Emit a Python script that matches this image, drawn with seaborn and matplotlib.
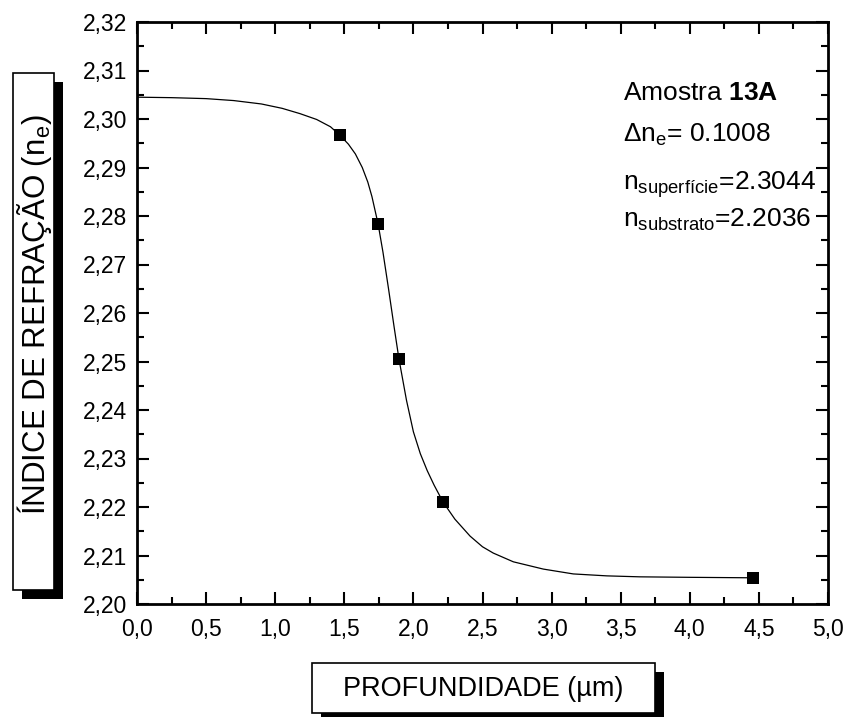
import matplotlib
matplotlib.use("Agg")
import matplotlib.pyplot as plt
from matplotlib.patches import Rectangle
import seaborn as sns
import pandas as pd

# ---- data ----
pts_x = [1.47, 1.745, 1.895, 2.215, 4.46]
pts_y = [2.2966, 2.2783, 2.2506, 2.2210, 2.2054]

curve_x = [0.0, 0.25, 0.50, 0.70, 0.90, 1.05, 1.18, 1.30, 1.40, 1.47, 1.53, 1.58,
           1.63, 1.67, 1.70, 1.745, 1.78, 1.82, 1.86, 1.895, 1.95, 2.00, 2.05,
           2.10, 2.15, 2.215, 2.30, 2.41, 2.50, 2.578, 2.723, 2.94, 3.157, 3.40,
           3.64, 4.00, 4.46]
curve_y = [2.3045, 2.3044, 2.3042, 2.3038, 2.3031, 2.3022, 2.3011, 2.2999, 2.2984, 2.2966, 2.2948, 2.2928,
           2.2900, 2.2870, 2.2840, 2.2783, 2.2725, 2.2650, 2.2572, 2.2506, 2.2420, 2.2355, 2.2310,
           2.2275, 2.2245, 2.2210, 2.2175, 2.2140, 2.2118, 2.2105, 2.2087, 2.2072, 2.2062, 2.2058,
           2.2056, 2.2055, 2.2054]

x_ticks = [0.0, 0.5, 1.0, 1.5, 2.0, 2.5, 3.0, 3.5, 4.0, 4.5, 5.0]
x_ticklabels = ["0,0", "0,5", "1,0", "1,5", "2,0", "2,5", "3,0", "3,5", "4,0", "4,5", "5,0"]
y_ticks = [2.20, 2.21, 2.22, 2.23, 2.24, 2.25, 2.26, 2.27, 2.28, 2.29, 2.30, 2.31, 2.32]
y_ticklabels = ["2,20", "2,21", "2,22", "2,23", "2,24", "2,25", "2,26", "2,27", "2,28",
                "2,29", "2,30", "2,31", "2,32"]

xlabel = "PROFUNDIDADE (µm)"
ylabel = r"ÍNDICE DE REFRAÇÃO (n$_{\mathrm{e}}$)"
ann_lines = [r"Amostra $\mathbf{13A}$",
             r"Δn$_{\mathrm{e}}$= 0.1008",
             r"n$_{\mathrm{superfície}}$=2.3044",
             r"n$_{\mathrm{substrato}}$=2.2036"]

# ---- style ----
sns.set_theme(style="ticks")
plt.rcParams["font.family"] = ["Liberation Sans", "DejaVu Sans"]
plt.rcParams["mathtext.fontset"] = "custom"
plt.rcParams["mathtext.rm"] = "Liberation Sans"
plt.rcParams["mathtext.it"] = "Liberation Sans:italic"
plt.rcParams["mathtext.bf"] = "Liberation Sans:bold"

W, H = 846, 717
fig = plt.figure(figsize=(W / 100, H / 100), dpi=100)

def fx(px):
    return px / W

def fy(py):
    return 1 - py / H

L, R, T, B = 137, 828, 22, 604
ax = fig.add_axes([fx(L), fy(B), fx(R) - fx(L), fy(T) - fy(B)])

curve_df = pd.DataFrame({"x": curve_x, "y": curve_y})
pts_df = pd.DataFrame({"x": pts_x, "y": pts_y})
sns.lineplot(data=curve_df, x="x", y="y", ax=ax, color="black", linewidth=0.9,
             sort=False, estimator=None)
sns.scatterplot(data=pts_df, x="x", y="y", ax=ax, marker="s", s=85, color="black",
                edgecolor="black", linewidth=0, zorder=5)

ax.set_xlim(0, 5)
ax.set_ylim(2.20, 2.32)
ax.set_xticks(x_ticks)
ax.set_xticklabels(x_ticklabels)
ax.set_yticks(y_ticks)
ax.set_yticklabels(y_ticklabels)
ax.set_xticks([0.25 + 0.5 * i for i in range(10)], minor=True)
ax.set_yticks([2.205 + 0.01 * i for i in range(12)], minor=True)
ax.set_xlabel("")
ax.set_ylabel("")

for s in ax.spines.values():
    s.set_linewidth(2.0)
    s.set_color("black")
    s.set_visible(True)

ax.tick_params(which="both", direction="in", top=True, right=True, color="black",
               width=1.5, labelsize=16.5, labelcolor="black")
ax.tick_params(which="major", length=8.5)
ax.tick_params(which="minor", length=4.8)
ax.tick_params(axis="x", which="major", pad=10)
ax.tick_params(axis="y", which="major", pad=7)

# ---- label boxes with shadows ----
def box(x0, y0, x1, y1, off=8.5):
    fig.add_artist(Rectangle((fx(x0 + off), fy(y1 + off)), fx(x1 - x0), fy(y0) - fy(y1),
                             transform=fig.transFigure, facecolor="black",
                             edgecolor="black", lw=0, zorder=1))
    fig.add_artist(Rectangle((fx(x0), fy(y1)), fx(x1 - x0), fy(y0) - fy(y1),
                             transform=fig.transFigure, facecolor="white",
                             edgecolor="black", lw=1.2, zorder=2))

box(13, 73, 54, 590)
fig.text(fx(35), fy(315), ylabel, rotation=90, ha="center", va="center",
         fontsize=22.5, color="black", zorder=3)

box(312, 663, 655, 713)
fig.text(fx(483), fy(689), xlabel, ha="center", va="center",
         fontsize=19.5, color="black", zorder=3)

# ---- annotation ----
baselines = [100, 142, 190, 227]
for line, b in zip(ann_lines, baselines):
    fig.text(fx(623), fy(b), line, ha="left", va="baseline", fontsize=19, color="black")

fig.savefig("out.png", dpi=100)
